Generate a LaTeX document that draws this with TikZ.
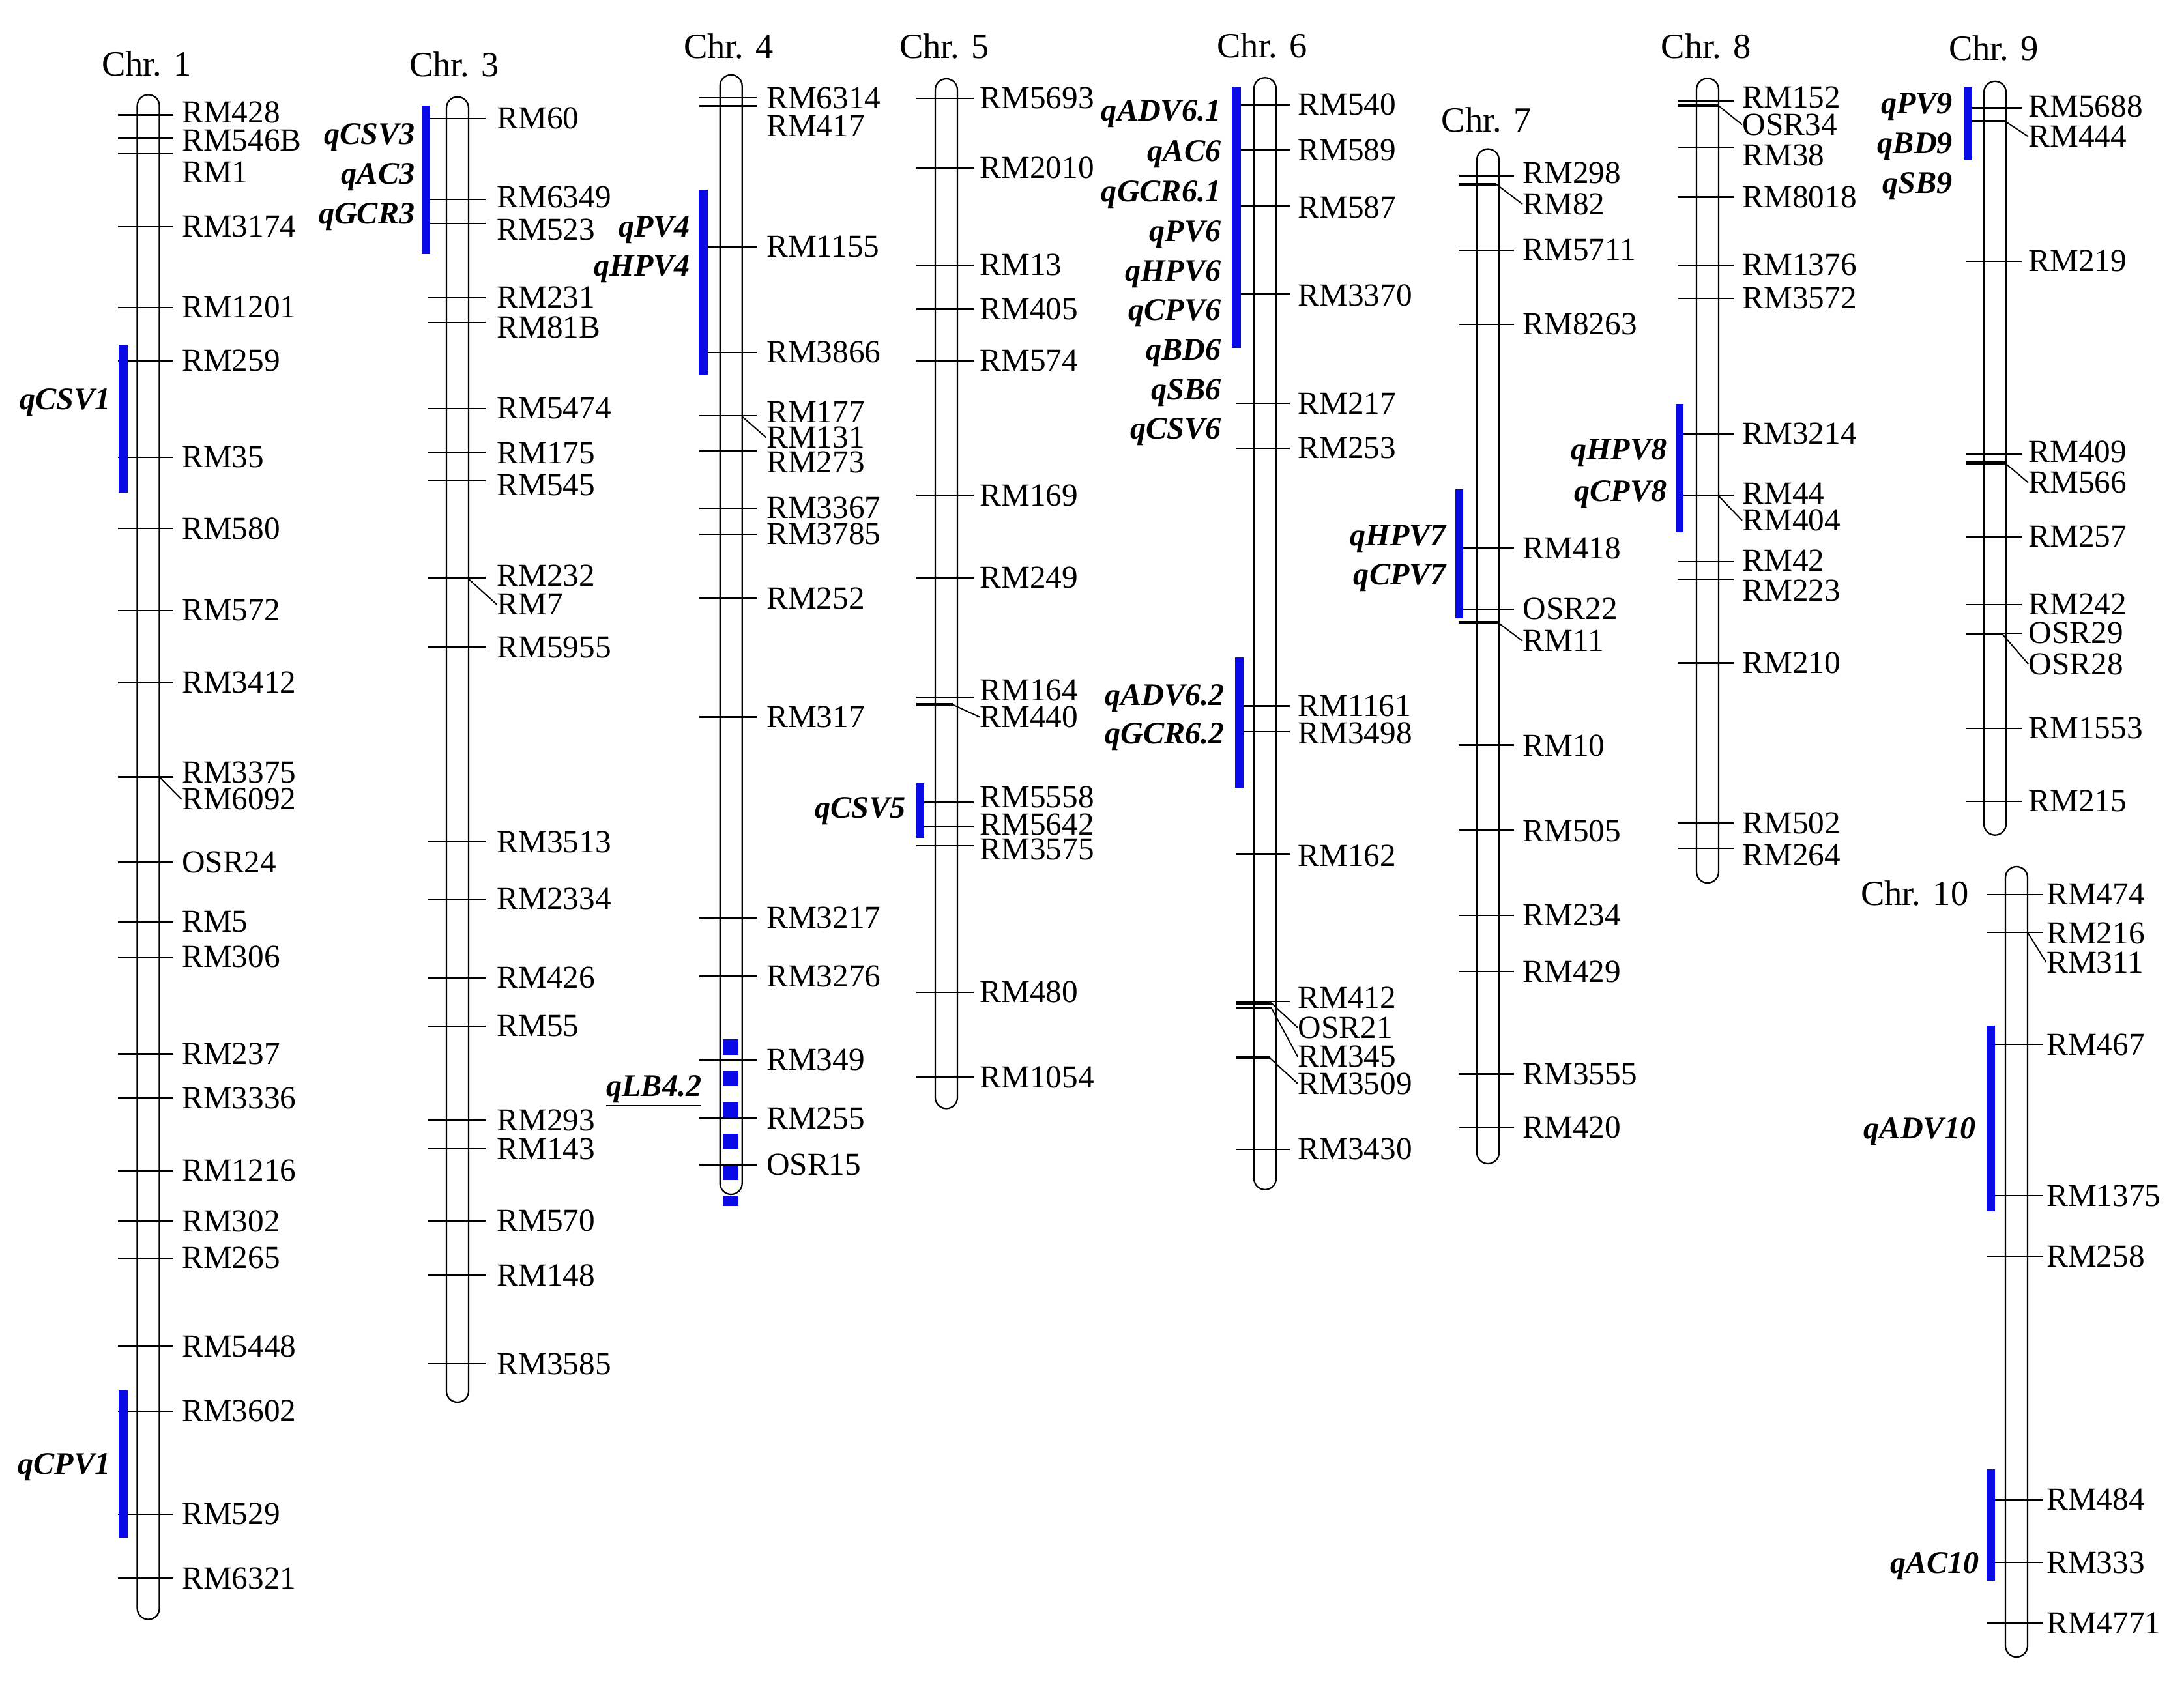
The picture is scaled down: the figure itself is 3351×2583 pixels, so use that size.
\documentclass[tikz,border=0pt]{standalone}
\usepackage{fontspec}
\setmainfont{Liberation Serif}
\definecolor{qblue}{RGB}{10,10,230}
\newcommand\mfont{\fontsize{14}{16}\selectfont}
\newcommand\qfont{\fontsize{13.7}{16}\selectfont\bfseries\itshape}
\newcommand\cfont{\fontsize{15.5}{18}\selectfont}
\newcommand\setchr[3]{\def\cL{#1}\def\cR{#2}\def\cX{#3}}
\newcommand\MkT[3]{\draw[tk] (\cL,#1) -- (\cR,#1); \node[mlab] (m-#3) at (\cX,#2+16) {#3};}
\newcommand\MkL[2]{\node[mlab] (m-#2) at (\cX,#1+16) {#2};}
\newcommand\Thk[2]{\draw[tkb] (\cL,#1) -- (#2,#1);}
\newcommand\Ldr[4]{\coordinate (#1) at (#2,#3); \draw[ldrs] (#1) -- (m-#4.west);}
\newcommand\QL[4]{\node[qlab] (#1) at (#2,#3+16) {#4};}
\begin{document}
\begin{tikzpicture}[x=0.01cm,y=-0.01cm,
  rod/.style={draw=black, line width=0.65pt, fill=white, rounded corners=0.17cm},
  tk/.style={draw=black, line width=0.65pt},
  tkb/.style={draw=black, line width=1.3pt},
  ldrs/.style={draw=black, line width=0.55pt},
  mlab/.style={font=\mfont, inner sep=0pt, anchor=base west},
  qlab/.style={font=\qfont, inner sep=0pt, anchor=base east},
  clab/.style={font=\cfont, inner sep=0pt, anchor=base}]
\fill[white] (0,0) rectangle (3351,2583);
\useasboundingbox (0,0) rectangle (3351,2583);

% chromosome titles
\node[clab] (chr1) at (225,116.5) {Chr. 1};
\node[clab] (chr3) at (697,117.6) {Chr. 3};
\node[clab] (chr4) at (1118,89.9) {Chr. 4};
\node[clab] (chr5) at (1449,89.9) {Chr. 5};
\node[clab] (chr6) at (1936.5,88.8) {Chr. 6};
\node[clab] (chr7) at (2280.7,202.6) {Chr. 7};
\node[clab] (chr8) at (2617.8,89.9) {Chr. 8};
\node[clab] (chr9) at (3059,93) {Chr. 9};
\node[clab] (chr10) at (2937.7,1389.4) {Chr. 10};

% rods
\draw[rod] (210.6,145.4) rectangle (244.6,2485.5);
\draw[rod] (685,148.7) rectangle (719,2152);
\draw[rod] (1104.7,114.9) rectangle (1138.7,1833);
\draw[rod] (1435,121) rectangle (1469,1701.4);
\draw[rod] (1924,119.3) rectangle (1958,1825.8);
\draw[rod] (2266,228.6) rectangle (2300,1786);
\draw[rod] (2603,120.4) rectangle (2637,1355);
\draw[rod] (3044,124.9) rectangle (3078,1281.7);
\draw[rod] (3077,1330) rectangle (3111,2543);

% qLB4.2 dashed interval
\foreach \yy in {1595,1643,1691.5,1739.5,1787.5}{\fill[qblue] (1109,\yy) rectangle (1133,\yy+23.5);}
\fill[qblue] (1109,1835.3) rectangle (1133,1851);

% ---------- Chr 1
\setchr{181}{266}{278.5}
\MkT{176.5}{173}{RM428}
\MkT{212.5}{216}{RM546B}
\MkT{235.8}{265}{RM1}
\MkT{348}{348}{RM3174}
\MkT{471.7}{471.7}{RM1201}
\MkT{553.8}{553.8}{RM259}
\MkT{702}{702}{RM35}
\MkT{811.3}{811.3}{RM580}
\MkT{937}{937}{RM572}
\MkT{1047.6}{1047.6}{RM3412}
\MkT{1192.4}{1186}{RM3375}
\MkL{1227}{RM6092}
\Ldr{lp1}{244.6}{1192.4}{RM6092}
\MkT{1323.4}{1323.4}{OSR24}
\MkT{1415}{1415}{RM5}
\MkT{1468.8}{1468.8}{RM306}
\MkT{1617.5}{1617.5}{RM237}
\MkT{1685.2}{1685.2}{RM3336}
\MkT{1796.8}{1796.8}{RM1216}
\MkT{1874.5}{1874.5}{RM302}
\MkT{1930.9}{1930.9}{RM265}
\MkT{2066}{2066}{RM5448}
\MkT{2165.7}{2165.7}{RM3602}
\MkT{2323.9}{2323.9}{RM529}
\MkT{2422.4}{2422.4}{RM6321}
\fill[qblue] (182,529) rectangle (195.5,756);
\fill[qblue] (182,2133.6) rectangle (195.5,2360);
\QL{q-CSV1}{170}{613}{qCSV1}
\QL{q-CPV1}{170}{2246}{qCPV1}

% ---------- Chr 3
\setchr{656}{744.5}{762}
\MkT{182}{182}{RM60}
\MkT{305.8}{303}{RM6349}
\MkT{343}{353}{RM523}
\MkT{456.7}{457}{RM231}
\MkT{495}{503}{RM81B}
\MkT{627}{627}{RM5474}
\MkT{693.7}{696}{RM175}
\MkT{737}{745}{RM545}
\MkT{886.6}{884}{RM232}
\MkL{927.7}{RM7}
\Ldr{lp2}{719}{888.6}{RM7}
\MkT{993.2}{993.2}{RM5955}
\MkT{1292.3}{1292.3}{RM3513}
\MkT{1380}{1380}{RM2334}
\MkT{1500.4}{1500.4}{RM426}
\MkT{1574.7}{1574.7}{RM55}
\MkT{1719}{1719}{RM293}
\MkT{1763}{1763}{RM143}
\MkT{1873.4}{1873.4}{RM570}
\MkT{1957.3}{1957.3}{RM148}
\MkT{2093}{2093}{RM3585}
\fill[qblue] (647,162) rectangle (660,390);
\QL{q-CSV3}{637}{205.3}{qCSV3}
\QL{q-AC3}{637}{266.4}{qAC3}
\QL{q-GCR3}{637}{327.4}{qGCR3}

% ---------- Chr 4
\setchr{1073.4}{1161.2}{1175.5}
\MkT{149.8}{151}{RM6314}
\MkT{162.6}{194}{RM417}
\MkT{379}{379}{RM1155}
\MkT{541}{541}{RM3866}
\MkT{638.2}{632.6}{RM177}
\MkL{671.5}{RM131}
\Ldr{lp3}{1138.7}{639.3}{RM131}
\MkT{692.6}{710}{RM273}
\MkT{779.7}{780}{RM3367}
\MkT{820.2}{820}{RM3785}
\MkT{918.2}{918.2}{RM252}
\MkT{1100.6}{1100.6}{RM317}
\MkT{1408.7}{1408.7}{RM3217}
\MkT{1498.6}{1498.6}{RM3276}
\MkT{1626.8}{1626.8}{RM349}
\MkT{1716}{1716}{RM255}
\MkT{1787.5}{1787.5}{OSR15}
\fill[qblue] (1072.3,291.3) rectangle (1085.5,575.5);
\QL{q-PV4}{1059.7}{348}{qPV4}
\QL{q-HPV4}{1059.7}{408}{qHPV4}
\QL{q-LB42}{1077}{1666}{\underline{qLB4.2}}

% ---------- Chr 5
\setchr{1405.9}{1493.6}{1503}
\MkT{151}{151}{RM5693}
\MkT{258}{258}{RM2010}
\MkT{406.8}{406.8}{RM13}
\MkT{474.5}{474.5}{RM405}
\MkT{553.8}{553.8}{RM574}
\MkT{760.3}{760.3}{RM169}
\MkT{886.4}{886.4}{RM249}
\MkT{1070}{1060}{RM164}
\Thk{1081.5}{1462}
\MkL{1100.6}{RM440}
\Ldr{lp4}{1462}{1081.5}{RM440}
\MkT{1231.4}{1224}{RM5558}
\MkT{1269}{1266}{RM5642}
\MkT{1298.3}{1304}{RM3575}
\MkT{1522.8}{1522.8}{RM480}
\MkT{1653.6}{1653.6}{RM1054}
\fill[qblue] (1405.9,1202) rectangle (1418,1285.6);
\QL{q-CSV5}{1390.5}{1240}{qCSV5}

% ---------- Chr 6
\setchr{1895.9}{1979.3}{1991}
\MkT{161}{161}{RM540}
\MkT{230.3}{230.3}{RM589}
\MkT{316.3}{319}{RM587}
\MkT{451.2}{454}{RM3370}
\MkT{618.8}{620}{RM217}
\MkT{688}{688}{RM253}
\MkT{1083.4}{1083.4}{RM1161}
\MkT{1123}{1126}{RM3498}
\MkT{1310.5}{1314}{RM162}
\MkT{1536.9}{1531}{RM412}
\Thk{1539.5}{1950.7}
\Thk{1547}{1950.7}
\Thk{1623.6}{1948}
\MkL{1577}{OSR21}
\MkL{1621.7}{RM345}
\MkL{1663}{RM3509}
\Ldr{lp5}{1950.7}{1539.5}{OSR21}
\Ldr{lp6}{1950.7}{1547}{RM345}
\Ldr{lp7}{1948}{1623.6}{RM3509}
\MkT{1763.9}{1763.9}{RM3430}
\fill[qblue] (1890.4,133.2) rectangle (1903.6,534.4);
\fill[qblue] (1894.8,1009.4) rectangle (1908,1209);
\QL{q-ADV61}{1874}{169.3}{qADV6.1}
\QL{q-AC6}{1874}{232}{qAC6}
\QL{q-GCR61}{1874}{294}{qGCR6.1}
\QL{q-PV6}{1874}{355}{qPV6}
\QL{q-HPV6}{1874}{416}{qHPV6}
\QL{q-CPV6}{1874}{476}{qCPV6}
\QL{q-BD6}{1874}{537}{qBD6}
\QL{q-SB6}{1874}{597.7}{qSB6}
\QL{q-CSV6}{1874}{657.6}{qCSV6}
\QL{q-ADV62}{1879.4}{1066.8}{qADV6.2}
\QL{q-GCR62}{1879.4}{1125.5}{qGCR6.2}

% ---------- Chr 7
\setchr{2237.6}{2322.6}{2336}
\MkT{270.3}{266}{RM298}
\Thk{283}{2296}
\MkL{313.5}{RM82}
\Ldr{lp8}{2296}{283}{RM82}
\MkT{384}{384}{RM5711}
\MkT{497.8}{497.8}{RM8263}
\MkT{840.7}{842}{RM418}
\MkT{934.8}{935}{OSR22}
\Thk{955.2}{2298}
\MkL{984}{RM11}
\Ldr{lp9}{2298}{955.2}{RM11}
\MkT{1143.4}{1145}{RM10}
\MkT{1274}{1276}{RM505}
\MkT{1404.8}{1404.8}{RM234}
\MkT{1491}{1491}{RM429}
\MkT{1648.5}{1648.5}{RM3555}
\MkT{1730}{1730}{RM420}
\fill[qblue] (2233.2,750.8) rectangle (2245.3,948.9);
\QL{q-HPV7}{2219.5}{821.3}{qHPV7}
\QL{q-CPV7}{2219.5}{881.9}{qCPV7}

% ---------- Chr 8
\setchr{2574.4}{2660.1}{2673}
\MkT{155.4}{150}{RM152}
\Thk{161.5}{2635.7}
\MkL{191.5}{OSR34}
\Ldr{lp10}{2635.7}{161.5}{OSR34}
\MkT{225.9}{238.6}{RM38}
\MkT{302.4}{303}{RM8018}
\MkT{406.8}{406.8}{RM1376}
\MkT{457.8}{457.8}{RM3572}
\MkT{666}{666}{RM3214}
\MkT{760.3}{758}{RM44}
\MkL{799}{RM404}
\Ldr{lp11}{2637}{761.4}{RM404}
\MkT{861.8}{861}{RM42}
\MkT{888.8}{907}{RM223}
\MkT{1017.6}{1017.6}{RM210}
\MkT{1263.4}{1263.4}{RM502}
\MkT{1302.3}{1313}{RM264}
\fill[qblue] (2570.6,619.9) rectangle (2582.5,817.4);
\QL{q-HPV8}{2558}{690}{qHPV8}
\QL{q-CPV8}{2558}{754}{qCPV8}

% ---------- Chr 9
\setchr{3015.6}{3102.4}{3112}
\MkT{165.4}{163.7}{RM5688}
\Thk{185.9}{3076}
\MkL{209.8}{RM444}
\Ldr{lp12}{3076}{185.9}{RM444}
\MkT{400.7}{400.7}{RM219}
\MkT{697.6}{694}{RM409}
\Thk{710.3}{3076}
\MkL{740.8}{RM566}
\Ldr{lp13}{3076}{710.3}{RM566}
\MkT{824}{824}{RM257}
\MkT{927.7}{927.7}{RM242}
\MkT{972}{972}{OSR29}
\Thk{973}{3072}
\MkL{1019.3}{OSR28}
\Ldr{lp14}{3072}{973}{OSR28}
\MkT{1118}{1118}{RM1553}
\MkT{1230}{1230}{RM215}
\fill[qblue] (3014,134.3) rectangle (3025.9,245.8);
\QL{q-PV9}{2996.6}{158.2}{qPV9}
\QL{q-BD9}{2996.6}{219.2}{qBD9}
\QL{q-SB9}{2996.6}{280.2}{qSB9}

% ---------- Chr 10
\setchr{3048.2}{3135}{3139.5}
\MkT{1372.7}{1372.7}{RM474}
\MkT{1431}{1432.7}{RM216}
\MkL{1477}{RM311}
\Ldr{lp15}{3111}{1431}{RM311}
\MkT{1603}{1603}{RM467}
\MkT{1835.1}{1835.1}{RM1375}
\MkT{1928}{1928}{RM258}
\MkT{2301.4}{2301.4}{RM484}
\MkT{2398.2}{2398.2}{RM333}
\MkT{2491}{2491}{RM4771}
\fill[qblue] (3048.2,1574.2) rectangle (3060.7,1859.3);
\fill[qblue] (3048.2,2254.6) rectangle (3060.7,2426.4);
\QL{q-ADV10}{3031.9}{1731}{qADV10}
\QL{q-AC10}{3037.3}{2398.2}{qAC10}
\end{tikzpicture}
\end{document}
